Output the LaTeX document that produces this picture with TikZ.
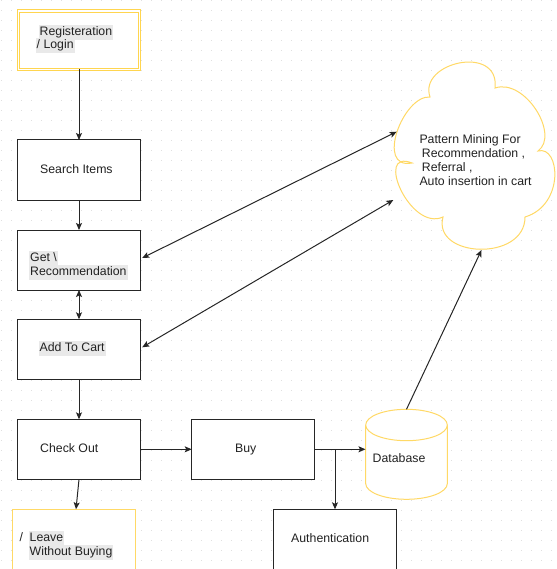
\documentclass[tikz,border=0pt]{standalone}
\usepackage{fontspec}
\setmainfont{Liberation Sans}
\usetikzlibrary{arrows.meta,calc}
\definecolor{gold}{HTML}{FFD966}
\definecolor{goldd}{HTML}{FFD54F}
\definecolor{hl}{HTML}{E9E9E9}
\definecolor{ink}{HTML}{222222}
\definecolor{gridc}{HTML}{E0E0E0}
\begin{document}
\begin{tikzpicture}[x=1pt,y=-1pt,
  >={Stealth[length=7pt,width=6pt,inset=1.5pt]},
  box/.style={draw=black!85,line width=1pt,fill=white,rectangle,inner sep=0pt,outer sep=0pt,minimum width=123.4pt,minimum height=60pt},
  ybox/.style={box,draw=gold},
  txt/.style={anchor=west,inner xsep=1pt,inner ysep=1.5pt,text height=9pt,text depth=3pt,text=ink,font=\fontsize{12.3}{14}\selectfont},
  htxt/.style={txt,fill=hl},
  conn/.style={draw=black!85,line width=1pt}]
\useasboundingbox (0,0) rectangle (556,569);
\fill[white] (0,0) rectangle (556,569);
% dotted grid
\foreach \i in {0,...,55}{\foreach \j in {0,...,56}{\fill[gridc] (1+10*\i,10*\j) rectangle ++(1,1);}}

% boxes
\node[box,draw=goldd,double=white,double distance=1.5pt,line width=1pt,minimum width=120.9pt,minimum height=58.2pt] (reg) at (79,40.3) {};
\node[box] (search) at (79,170) {};
\node[box] (getrec) at (79,260) {};
\node[box] (cart) at (79,349.3) {};
\node[box] (checkout) at (79,449.3) {};
\node[box,minimum width=122.6pt] (buy) at (253,449.3) {};
\node[box,minimum height=62pt] (auth) at (335,540.3) {};
\node[ybox,minimum width=122.6pt,minimum height=62pt] (leave) at (74,540.3) {};

% database cylinder
\node[inner sep=0pt,minimum width=81.6pt,minimum height=90pt] (db) at (406.5,454.3) {};
\fill[white] (365.7,425) -- (365.7,483.6)
  arc[start angle=180,end angle=0,x radius=40.8,y radius=15.7] -- (447.3,425) -- cycle;
\draw[draw=gold,line width=1pt] (365.7,425) -- (365.7,483.6)
  arc[start angle=180,end angle=0,x radius=40.8,y radius=15.7] -- (447.3,425);
\draw[draw=gold,line width=1pt,fill=white] (406.5,425) ellipse [x radius=40.8,y radius=15.7];
\coordinate (dbtop) at (406.5,409.3);

% cloud
\filldraw[draw=gold,fill=white,line width=1pt] (430,97) .. controls (418,62) and (500,44) .. (495,88)
  .. controls (525,78) and (560,135) .. (538,151)
  .. controls (560,145) and (565,205) .. (525,217)
  .. controls (525,262) and (432,258) .. (443,217)
  .. controls (410,232) and (374,148) .. (412,163)
  .. controls (375,170) and (403,95) .. (430,97) -- cycle;
\coordinate (cl1) at (396.7,131.7);
\coordinate (cl2) at (393.3,200);
\coordinate (cl3) at (481.5,250);

% texts
\node[htxt] (t1a) at (38.5,32.3) {Registeration};
\node[htxt] (t1b) at (35.5,46) {/ Login};
\node[txt] (t2) at (39,170.3) {Search Items};
\node[htxt] (t3a) at (29,258.8) {Get \textbackslash};
\node[htxt] (t3b) at (29,272.8) {Recommendation};
\node[htxt] (t4) at (38.5,348.3) {Add To Cart};
\node[txt] (t5) at (39,449.8) {Check Out};
\node[txt] (t6) at (234,449.8) {Buy};
\node[txt] (t7) at (371.5,459.8) {Database};
\node[txt] (t8) at (290,539.3) {Authentication};
\node[txt] (t9s) at (18.5,538.3) {/};
\node[htxt] (t9a) at (28.5,538.3) {Leave};
\node[htxt] (t9b) at (28.5,552.8) {Without Buying};
\node[txt] (c1) at (418.3,140.1) {Pattern Mining For};
\node[txt] (c2) at (420.7,154.5) {Recommendation ,};
\node[txt] (c3) at (420.7,168.1) {Referral ,};
\node[txt] (c4) at (418.3,182.1) {Auto insertion in cart};

% connectors
\draw[conn,->] (reg.south) -- (search.north);
\draw[conn,->] (search.south) -- (getrec.north);
\draw[conn,<->] (getrec.south) -- (cart.north);
\draw[conn,->] (cart.south) -- (checkout.north);
\draw[conn,->] (checkout.east) -- (buy.west);
\draw[conn,->] (checkout.south) -- ($(leave.north)+(2,0)$);
\draw[conn,->] (buy.east) -- (db.west |- buy.east);
\coordinate (br) at (335,449.3);
\draw[conn,->] (br) -- (auth.north);
\draw[conn,<->] ($(getrec.east)+(1.5,-2)$) -- (cl1);
\draw[conn,<->] ($(cart.east)+(1.5,-2)$) -- (cl2);
\draw[conn,->] (dbtop) -- (cl3);
\end{tikzpicture}
\end{document}
